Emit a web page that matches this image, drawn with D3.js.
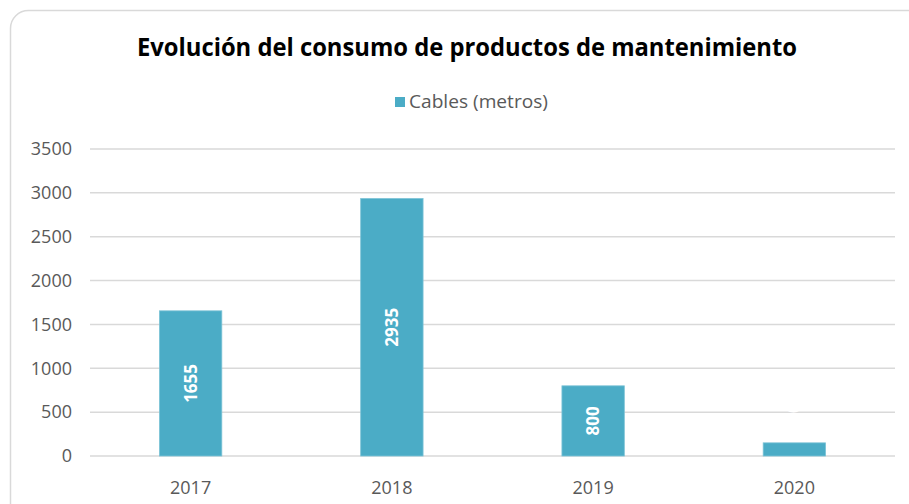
<!DOCTYPE html>
<html>
<head>
<meta charset="utf-8">
<script src="https://cdn.jsdelivr.net/npm/d3@7"></script>
<style>
  body { margin: 0; background: #fff; }
  svg { display: block; font-family: "Open Sans", "Noto Sans", sans-serif; }
</style>
</head>
<body>
<svg id="chart" width="909" height="504"></svg>
<script>
var years = ["2017", "2018", "2019", "2020"];
var cables = [1655, 2935, 800, 150];
var yTicks = [0, 500, 1000, 1500, 2000, 2500, 3000, 3500];
var seriesName = "Cables (metros)";
var title = "Evolución del consumo de productos de mantenimiento";

var W = 909, H = 504;
var BAR = "#4bacc6", GRID = "#d9d9d9", TXT = "#595959";
var margin = {top: 149, right: 14, bottom: 48, left: 90};

var svg = d3.select("#chart");

// outer frame with rounded corners, runs past the right/bottom edge
svg.append("rect")
    .attr("x", 10.5).attr("y", 10.5)
    .attr("width", W + 20).attr("height", H + 20)
    .attr("rx", 18)
    .style("fill", "#fff")
    .style("stroke", GRID)
    .style("stroke-width", 1.5);

svg.append("text")
    .attr("x", 467).attr("y", 56)
    .attr("text-anchor", "middle")
    .attr("textLength", 660)
    .attr("lengthAdjust", "spacingAndGlyphs")
    .style("font-size", "25px")
    .style("font-weight", "bold")
    .style("fill", "#000")
    .text(title);

// legend
var legend = svg.append("g").attr("transform", "translate(395,97)");
legend.append("rect").attr("width", 10).attr("height", 10).style("fill", BAR);
legend.append("text")
    .attr("x", 14).attr("y", 11)
    .attr("textLength", 139)
    .attr("lengthAdjust", "spacingAndGlyphs")
    .style("font-size", "18px")
    .style("fill", TXT)
    .text(seriesName);

var x = d3.scaleBand()
    .domain(years)
    .range([margin.left, W - margin.right])
    .paddingInner(0.69)
    .paddingOuter(0.345);

var y = d3.scaleLinear()
    .domain([0, 3500])
    .range([H - margin.bottom, margin.top]);

var g = svg.append("g");

g.selectAll(".grid").data(yTicks)
  .enter().append("line")
    .attr("class", "grid")
    .attr("x1", margin.left).attr("x2", W - margin.right)
    .attr("y1", function (d) { return y(d); })
    .attr("y2", function (d) { return y(d); })
    .style("stroke", GRID)
    .style("stroke-width", 1.5);

g.selectAll(".ytick").data(yTicks)
  .enter().append("text")
    .attr("class", "ytick")
    .attr("x", 72)
    .attr("y", function (d) { return y(d); })
    .attr("dy", "0.35em")
    .attr("text-anchor", "end")
    .style("font-size", "18px")
    .style("fill", TXT)
    .text(function (d) { return d; });

g.selectAll(".xtick").data(years)
  .enter().append("text")
    .attr("class", "xtick")
    .attr("x", function (d) { return x(d) + x.bandwidth() / 2; })
    .attr("y", H - margin.bottom + 38)
    .attr("text-anchor", "middle")
    .style("font-size", "18px")
    .style("fill", TXT)
    .text(function (d) { return d; });

g.selectAll(".bar").data(cables)
  .enter().append("rect")
    .attr("class", "bar")
    .attr("x", function (d, i) { return x(years[i]); })
    .attr("y", function (d) { return y(d); })
    .attr("width", x.bandwidth())
    .attr("height", function (d) { return y(0) - y(d); })
    .style("fill", BAR)
    .style("stroke", "#7cc3d6")
    .style("stroke-width", 0.8);

// value labels, rotated, white; a short bar pushes its label above
g.selectAll(".val").data(cables)
  .enter().append("text")
    .attr("class", "val")
    .attr("transform", function (d, i) {
      var cx = x(years[i]) + x.bandwidth() / 2;
      var h = y(0) - y(d);
      var cy = h > 40 ? (y(d) + y(0)) / 2 : y(d) - 25;
      return "translate(" + cx + "," + cy + ") rotate(-90)";
    })
    .attr("text-anchor", "middle")
    .attr("dy", "0.35em")
    .style("font-size", "17px")
    .style("font-weight", "bold")
    .style("fill", "#fff")
    .text(function (d) { return d; });
</script>
</body>
</html>
